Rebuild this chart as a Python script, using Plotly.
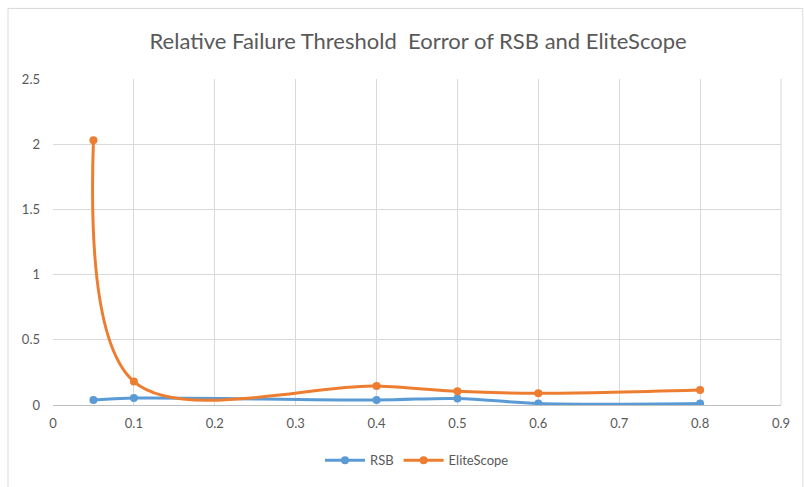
import plotly.graph_objects as go

x_vals = [0.05, 0.1, 0.4, 0.5, 0.6, 0.8]
rsb = [0.038, 0.053, 0.038, 0.05, 0.012, 0.012]
elitescope = [2.03, 0.18, 0.145, 0.105, 0.09, 0.115]
title_text = "Relative Failure Threshold  Eorror of RSB and EliteScope"

FONT = "Lato, Liberation Sans Narrow, Arial"
GRAY = "#595959"
GRID = "#d9d9d9"

fig = go.Figure()
fig.add_trace(go.Scatter(x=x_vals, y=rsb, name="RSB", mode="lines+markers",
                         line=dict(color="#5b9bd5", width=3, shape="spline", smoothing=1.0),
                         marker=dict(size=8, color="#5b9bd5")))
fig.add_trace(go.Scatter(x=x_vals, y=elitescope, name="EliteScope", mode="lines+markers",
                         line=dict(color="#ed7d31", width=3, shape="spline", smoothing=1.0),
                         marker=dict(size=8, color="#ed7d31")))

fig.update_layout(
    width=804, height=487,
    margin=dict(l=53, r=23, t=79, b=80),
    paper_bgcolor="white", plot_bgcolor="white",
    font=dict(family=FONT, color=GRAY, size=13),
    title=dict(text=title_text, x=0.52, xanchor="center", y=0.915, yanchor="middle",
               font=dict(family=FONT, size=22, color=GRAY)),
    xaxis=dict(range=[0, 0.9], dtick=0.1, tick0=0, showgrid=True, gridcolor=GRID, gridwidth=1,
               zeroline=False, showline=True, linecolor="#bfbfbf", linewidth=1,
               mirror=False, ticks="", tickfont=dict(size=13, color=GRAY),
               tickformat="~g", ticklabelstandoff=6),
    yaxis=dict(range=[0, 2.5], dtick=0.5, tick0=0, showgrid=True, gridcolor=GRID, gridwidth=1,
               zeroline=False, showline=False, ticks="", tickfont=dict(size=13, color=GRAY),
               tickformat="~g", ticklabelstandoff=12),
    legend=dict(orientation="h", x=0.5, xanchor="center", y=-0.17, yanchor="middle",
                font=dict(size=13, color=GRAY), itemwidth=40),
    shapes=[dict(type="rect", xref="paper", yref="paper",
                 x0=-45/728, x1=1.03, y0=-0.3, y1=1 + 71/328,
                 line=dict(color="#d9d9d9", width=1), layer="below"),
            dict(type="line", xref="paper", yref="paper", x0=1, x1=1, y0=0, y1=1,
                 line=dict(color=GRID, width=1))],
    showlegend=True,
)

fig.write_html("out.html")
